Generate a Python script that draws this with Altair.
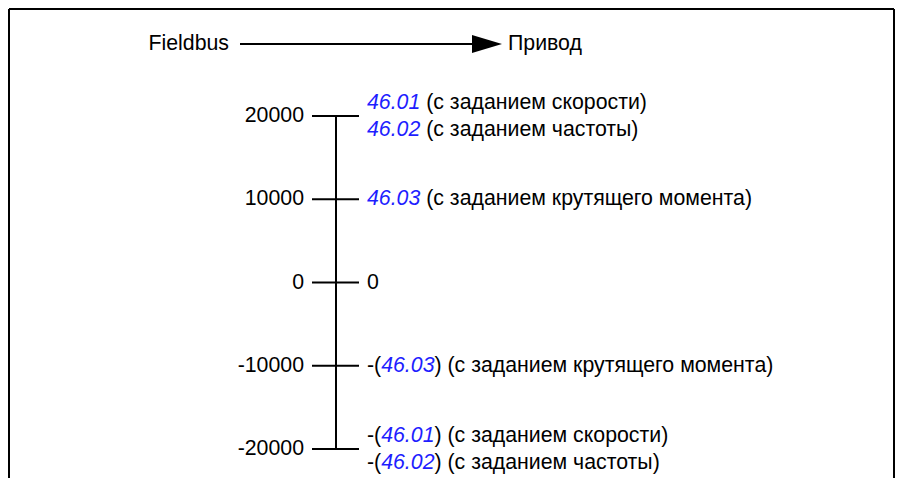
import altair as alt
import pandas as pd

# ---- data -------------------------------------------------------------
tick_values = [20000, 10000, 0, -10000, -20000]
tick_labels = ["20000", "10000", "0", "-10000", "-20000"]

line_values = [20000, 20000, 10000, 0, -10000, -20000, -20000]
line_prefix = ["", "", "", "", "-(", "-(", "-("]
line_code = ["46.01", "46.02", "46.03", "", "46.03", "46.01", "46.02"]
line_suffix = ["", "", "", "", ")", ")", ")"]
line_desc = [
    "(с заданием скорости)",
    "(с заданием частоты)",
    "(с заданием крутящего момента)",
    "0",
    "(с заданием крутящего момента)",
    "(с заданием скорости)",
    "(с заданием частоты)",
]

header_left = "Fieldbus"
header_right = "Привод"

# ---- style / layout ---------------------------------------------------
FONT = "Liberation Sans"
FS = 21.3
BLUE = "#1e1eff"
W, H = 887, 470
AXIS_X = 328
TICK_X1, TICK_X2 = 304, 351
LEFT_LABEL_X = 296
TEXT_X0 = 359
LINE_GAP = 13.5

# approximate Arial advance widths (em) for measuring code pieces
ADV = {c: 0.556 for c in "0123456789"}
ADV.update({".": 0.278, "-": 0.333, "(": 0.333, ")": 0.333, " ": 0.278})


def tw(s):
    return sum(ADV.get(c, 0.556) for c in s) * FS


yscale = alt.Scale(domain=[-20000, 20000], range=[441, 108])

# build table
rows = []
seen = {}
for v, p, c, s, d in zip(line_values, line_prefix, line_code, line_suffix, line_desc):
    n = line_values.count(v)
    k = seen.get(v, 0)
    seen[v] = k + 1
    slot = 0 if n == 1 else (-1 if k == 0 else 1)
    x_code = TEXT_X0 + tw(p)
    x_suf = x_code + tw(c)
    x_desc = x_suf + tw(s) + (tw(" ") if c else 0)
    rows.append(dict(value=v, prefix=p, code=c, suffix=s, desc=d, slot=slot,
                     xp=TEXT_X0, xc=x_code, xs=x_suf, xd=x_desc))
lines = pd.DataFrame(rows)
ticks = pd.DataFrame({"value": tick_values, "label": tick_labels})
span = pd.DataFrame({"top": [max(tick_values)], "bottom": [min(tick_values)]})

layers = []

# frame (top, left, right)
base = alt.Chart(pd.DataFrame({"a": [0]}))
layers.append(base.mark_rule(color="black", strokeWidth=2).encode(
    x=alt.value(1), x2=alt.value(W - 1), y=alt.value(1)))
layers.append(base.mark_rule(color="black", strokeWidth=2).encode(
    x=alt.value(1), y=alt.value(1), y2=alt.value(H)))
layers.append(base.mark_rule(color="black", strokeWidth=2).encode(
    x=alt.value(W - 1), y=alt.value(1), y2=alt.value(H)))

# header arrow
layers.append(base.mark_rule(color="black", strokeWidth=2).encode(
    x=alt.value(232), x2=alt.value(466), y=alt.value(36)))
layers.append(base.mark_point(shape="M -1 -0.6 L 1 0 L -1 0.6 Z", size=900,
                              filled=True, color="black", opacity=1).encode(
    x=alt.value(479), y=alt.value(36)))
layers.append(alt.Chart(pd.DataFrame({"t": [header_left]})).mark_text(
    align="right", baseline="middle", font=FONT, fontSize=FS, color="black").encode(
    x=alt.value(221), y=alt.value(36), text="t:N"))
layers.append(alt.Chart(pd.DataFrame({"t": [header_right]})).mark_text(
    align="left", baseline="middle", font=FONT, fontSize=FS, color="black").encode(
    x=alt.value(500), y=alt.value(36), text="t:N"))

# vertical axis line
layers.append(alt.Chart(span).mark_rule(color="black", strokeWidth=2).encode(
    x=alt.value(AXIS_X), y=alt.Y("top:Q", scale=yscale, axis=None), y2="bottom:Q"))

# ticks
layers.append(alt.Chart(ticks).mark_rule(color="black", strokeWidth=2).encode(
    x=alt.value(TICK_X1), x2=alt.value(TICK_X2),
    y=alt.Y("value:Q", scale=yscale, axis=None)))

# left labels
layers.append(alt.Chart(ticks).mark_text(
    align="right", baseline="middle", font=FONT, fontSize=FS, color="black").encode(
    x=alt.value(LEFT_LABEL_X), y=alt.Y("value:Q", scale=yscale, axis=None),
    text="label:N"))

# right labels
for slot in (-1, 0, 1):
    sub = lines[lines["slot"] == slot]
    dy = slot * LINE_GAP
    for xcol, tcol, color, style in [("xp", "prefix", "black", "normal"),
                                     ("xc", "code", BLUE, "italic"),
                                     ("xs", "suffix", "black", "normal"),
                                     ("xd", "desc", "black", "normal")]:
        layers.append(alt.Chart(sub).mark_text(
            align="left", baseline="middle", font=FONT, fontSize=FS,
            fontStyle=style, color=color, dy=dy).encode(
            x=alt.X(f"{xcol}:Q", scale=None, axis=None),
            y=alt.Y("value:Q", scale=yscale, axis=None),
            text=f"{tcol}:N"))

chart = alt.layer(*layers).properties(
    width=W, height=H, padding=0,
    autosize=alt.AutoSizeParams(type="fit", contains="padding"),
).configure_view(strokeWidth=0)

chart.save("out.html", embed_options={"renderer": "svg", "actions": False})
